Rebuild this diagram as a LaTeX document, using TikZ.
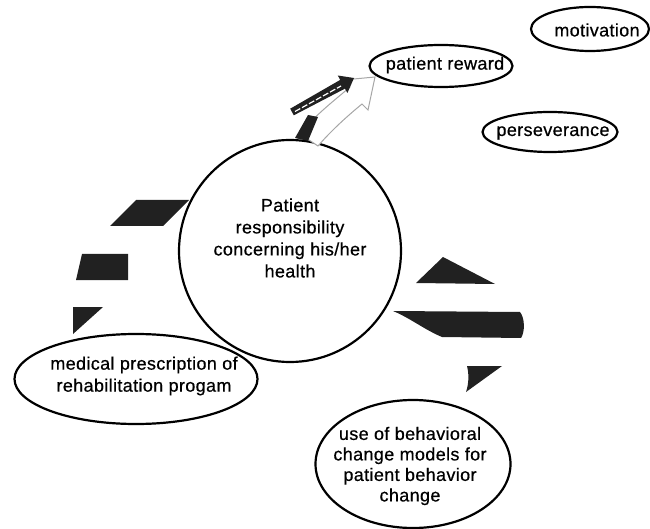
\documentclass[tikz,border=0pt]{standalone}
\usepackage{fontspec}
\setmainfont[FakeBold=0.6, LetterSpace=2]{Liberation Sans}
\usetikzlibrary{shapes.geometric}
\tikzset{
  lbl/.style={font=\fontsize{18pt}{22pt}\selectfont, align=center, inner sep=0pt},
  oval/.style={ellipse, draw=black, line width=2.2pt, inner sep=0pt},
  blk/.style={fill=black!87, draw=none},
}
\begin{document}
\begin{tikzpicture}[x=1pt,y=-1pt]
\useasboundingbox (0,0) rectangle (650,529);
% central circle
\node[circle, draw=black, line width=2.2pt, minimum size=222pt, inner sep=0pt] (core) at (290,251) {};
\node[lbl] (coretxt) at (290,238) {Patient\\responsibility\\concerning his/her\\health};
% ellipses
\node[oval, minimum width=143pt, minimum height=42pt] (reward) at (441,66) {};
\node[lbl] (rewardtxt) at (445,65) {patient reward};
\node[oval, minimum width=118pt, minimum height=44pt] (motiv) at (590,29) {};
\node[lbl] (motivtxt) at (597,30) {motivation};
\node[oval, minimum width=135pt, minimum height=40pt] (persev) at (550,132) {};
\node[lbl] (persevtxt) at (553,133) {perseverance};
\node[oval, minimum width=243pt, minimum height=90pt] (medical) at (136,379) {};
\node[lbl] (medicaltxt) at (144,376) {medical prescription of\\rehabilitation progam};
\node[oval, minimum width=195pt, minimum height=128pt] (behav) at (413,464) {};
\node[lbl, font=\fontsize{18pt}{20.5pt}\selectfont] (behavtxt) at (410,466) {use of behavioral\\change models for\\patient behavior\\change};
% left black segments
\fill[blk] (110,226) -- (136,200) -- (189,200) -- (163,226) -- cycle;
\fill[blk] (76,280) -- (82,254) -- (128,254) -- (128,280) -- cycle;
\fill[blk] (73,307) -- (103,307) -- (73,334) -- cycle;
% right black segments
\fill[blk] (416,283) -- (443,257) -- (495,284) -- cycle;
\fill[blk] (393,311) -- (520,312) .. controls (525,318) and (525,332) .. (521,338) -- (442,337) .. controls (425,330) and (410,318) .. (393,311) -- cycle;
\fill[blk] (467,366) -- (502,366) -- (466,392) .. controls (469,383) and (469,374) .. (467,366) -- cycle;
% top arrows
\filldraw[fill=white, draw=black!35, line width=1pt]
  (318,146) .. controls (330,132) and (345,118) .. (362,104) -- (368,110) -- (375,77) -- (343,80) -- (350,87)
  .. controls (335,100) and (315,115) .. (300,134) -- cycle;
\fill[blk] (295,138) -- (308,115) -- (318,117) -- (308,141) -- cycle;
\fill[blk] (293.8,115.3) -- (345,88.6) -- (347.4,93) -- (354,78) -- (337.8,75.5) -- (340.2,79.9) -- (290.2,108.7) -- cycle;
\draw[white, line width=1.2pt, dash pattern=on 6pt off 2pt] (295,111.5) -- (341,86);
\end{tikzpicture}
\end{document}
